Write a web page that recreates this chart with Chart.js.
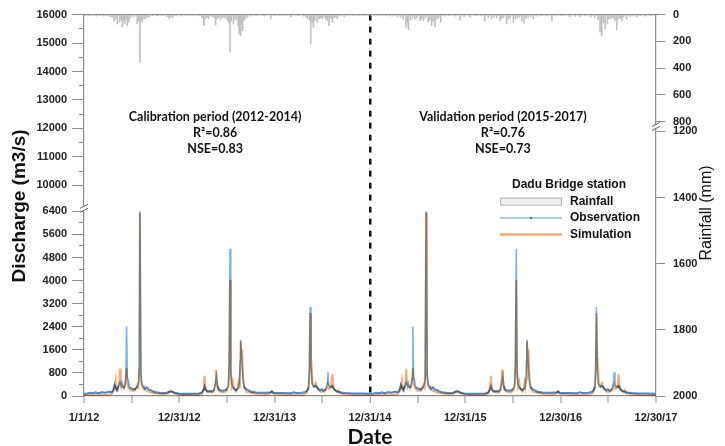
<!DOCTYPE html>
<html>
<head>
<meta charset="utf-8">
<script src="https://cdn.jsdelivr.net/npm/chart.js@4.4.1/dist/chart.umd.min.js"></script>
<style>
  html, body { margin: 0; padding: 0; background: #fff; }
  canvas { display: block; }
</style>
</head>
<body>
<canvas id="chart" width="725" height="446"></canvas>
<script>
// ── Axes (x = days since 1/1/12) ───────────────────────────────
const xTickDays   = [0, 365, 730, 1095, 1460, 1825, 2190];
const xTickLabels = ['1/1/12', '12/31/12', '12/31/13', '12/31/14', '12/31/15', '12/30/16', '12/30/17'];
const splitDay    = 1095;

const flowUpperTicks = [10000, 11000, 12000, 13000, 14000, 15000, 16000];
const flowLowerTicks = [0, 800, 1600, 2400, 3200, 4000, 4800, 5600, 6400];
const rainUpperTicks = [0, 200, 400, 600, 800];
const rainLowerTicks = [1200, 1400, 1600, 1800, 2000];

// ── Observation (m3/s) ─────────────────────────────────────────
const obsDays = [
  0, 12, 25, 35, 45, 55, 70, 80, 95, 105, 112, 117, 121, 126, 132, 138, 142, 146, 151, 156,
  160, 163, 166, 170, 174, 185, 195, 204, 210, 214, 218, 222, 227, 233, 240, 248, 255, 262, 275, 290,
  310, 326, 335, 345, 360, 380, 400, 420, 440, 452, 458, 462, 466, 474, 482, 490, 498, 503, 507, 511,
  517, 523, 530, 540, 548, 553, 556, 559, 562, 566, 570, 576, 582, 588, 591, 595, 598, 600, 603, 606,
  609, 613, 620, 628, 640, 660, 690, 712, 719, 726, 760, 790, 804, 812, 835, 848, 855, 860, 863, 866,
  869, 873, 879, 887, 897, 905, 910, 916, 926, 931, 934, 937, 943, 951, 956, 962, 968, 974, 985, 1000,
  1030, 1060, 1095,
  1108, 1121, 1131, 1141, 1151, 1166, 1176, 1191, 1201, 1208, 1213, 1217, 1222, 1228, 1234, 1238, 1242, 1247, 1252,
  1256, 1259, 1262, 1266, 1270, 1281, 1291, 1300, 1306, 1310, 1314, 1318, 1323, 1329, 1336, 1344, 1351, 1358, 1371, 1386,
  1406, 1422, 1431, 1441, 1456, 1476, 1496, 1516, 1536, 1548, 1554, 1558, 1562, 1570, 1578, 1586, 1594, 1599, 1603, 1607,
  1613, 1619, 1626, 1636, 1644, 1649, 1652, 1655, 1658, 1662, 1666, 1672, 1678, 1684, 1687, 1691, 1694, 1696, 1699, 1702,
  1705, 1709, 1716, 1724, 1736, 1756, 1786, 1808, 1815, 1822, 1856, 1886, 1900, 1908, 1931, 1944, 1951, 1956, 1959, 1962,
  1965, 1969, 1975, 1983, 1993, 2001, 2006, 2012, 2022, 2027, 2030, 2033, 2039, 2047, 2052, 2058, 2064, 2070, 2081, 2096,
  2126, 2156, 2190
];
const obsFlow = [
  80, 90, 110, 95, 130, 100, 140, 110, 150, 130, 200, 380, 300, 200, 350, 480, 300, 460, 280, 330,
  600, 2410, 650, 530, 300, 250, 220, 330, 500, 6400, 700, 400, 360, 250, 300, 220, 210, 170, 130, 110,
  100, 140, 150, 120, 90, 80, 75, 80, 85, 120, 220, 320, 200, 150, 180, 150, 220, 450, 700, 350,
  220, 200, 180, 200, 260, 400, 1200, 5100, 800, 400, 300, 250, 200, 250, 250, 500, 1200, 1950, 1400, 900,
  500, 320, 250, 200, 150, 120, 110, 120, 150, 110, 100, 95, 130, 100, 110, 140, 200, 320, 900, 3085,
  1000, 450, 300, 350, 250, 200, 240, 180, 250, 450, 824, 400, 300, 350, 250, 200, 160, 150, 120, 100,
  90, 85, 80,
  90, 110, 95, 130, 100, 140, 110, 150, 130, 200, 380, 300, 200, 350, 480, 300, 460, 280, 330,
  600, 2410, 650, 530, 300, 250, 220, 330, 500, 6400, 700, 400, 360, 250, 300, 220, 210, 170, 130, 110,
  100, 140, 150, 120, 90, 80, 75, 80, 85, 120, 220, 320, 200, 150, 180, 150, 220, 450, 700, 350,
  220, 200, 180, 200, 260, 400, 1200, 5100, 800, 400, 300, 250, 200, 250, 250, 500, 1200, 1950, 1400, 900,
  500, 320, 250, 200, 150, 120, 110, 120, 150, 110, 100, 95, 130, 100, 110, 140, 200, 320, 900, 3085,
  1000, 450, 300, 350, 250, 200, 240, 180, 250, 450, 824, 400, 300, 350, 250, 200, 160, 150, 120, 100,
  90, 85, 80
];

// ── Simulation (m3/s) ──────────────────────────────────────────
const simDays = [
  0, 30, 60, 90, 105, 112, 117, 121, 124, 130, 135, 138, 141, 146, 152, 158, 163, 166, 170, 178,
  190, 198, 204, 208, 211, 214, 217, 221, 228, 240, 255, 275, 300, 320, 328, 336, 345, 370, 400, 430,
  450, 456, 459, 462, 465, 472, 485, 497, 502, 505, 508, 512, 520, 535, 548, 553, 556, 559, 562, 566,
  570, 574, 582, 588, 591, 594, 597, 600, 603, 606, 609, 614, 622, 640, 670, 700, 712, 719, 726, 760,
  800, 840, 852, 859, 863, 866, 869, 871, 875, 881, 887, 893, 905, 918, 926, 931, 934, 938, 946, 951,
  955, 962, 970, 974, 980, 1000, 1040, 1095,
  1126, 1156, 1186, 1201, 1208, 1213, 1217, 1220, 1226, 1231, 1234, 1237, 1242, 1248, 1254, 1259, 1262, 1266, 1274,
  1286, 1294, 1300, 1304, 1307, 1310, 1313, 1317, 1324, 1336, 1351, 1371, 1396, 1416, 1424, 1432, 1441, 1466, 1496, 1526,
  1546, 1552, 1555, 1558, 1561, 1568, 1581, 1593, 1598, 1601, 1604, 1608, 1616, 1631, 1644, 1649, 1652, 1655, 1658, 1662,
  1666, 1670, 1678, 1684, 1687, 1690, 1693, 1696, 1699, 1702, 1705, 1710, 1718, 1736, 1766, 1796, 1808, 1815, 1822, 1856,
  1896, 1936, 1948, 1955, 1959, 1962, 1965, 1967, 1971, 1977, 1983, 1989, 2001, 2014, 2022, 2027, 2030, 2034, 2042, 2047,
  2051, 2058, 2066, 2070, 2076, 2096, 2136, 2190
];
const simFlow = [
  30, 35, 40, 45, 60, 150, 300, 550, 250, 200, 500, 950, 400, 350, 250, 400, 970, 450, 300, 200,
  180, 250, 380, 300, 900, 6350, 800, 350, 250, 180, 130, 90, 60, 80, 185, 180, 90, 40, 25, 25,
  60, 200, 450, 700, 300, 150, 120, 150, 400, 904, 600, 250, 150, 120, 180, 350, 1100, 4030, 900, 350,
  500, 250, 150, 250, 450, 300, 600, 1900, 1300, 1620, 700, 250, 150, 100, 60, 50, 80, 170, 70, 40,
  35, 40, 100, 250, 700, 2875, 1300, 1193, 400, 350, 450, 250, 150, 150, 200, 300, 400, 250, 300, 754,
  300, 180, 150, 200, 100, 50, 30, 25,
  35, 40, 45, 60, 150, 300, 550, 250, 200, 500, 950, 400, 350, 250, 400, 970, 450, 300, 200,
  180, 250, 380, 300, 900, 6350, 800, 350, 250, 180, 130, 90, 60, 80, 185, 180, 90, 40, 25, 25,
  60, 200, 450, 700, 300, 150, 120, 150, 400, 904, 600, 250, 150, 120, 180, 350, 1100, 4030, 900, 350,
  500, 250, 150, 250, 450, 300, 600, 1900, 1300, 1620, 700, 250, 150, 100, 60, 50, 80, 170, 70, 40,
  35, 40, 100, 250, 700, 2875, 1300, 1193, 400, 350, 450, 250, 150, 150, 200, 300, 400, 250, 300, 754,
  300, 180, 150, 200, 100, 50, 30, 25
];

// ── Rainfall (mm) ──────────────────────────────────────────────
const rainDays = [
  8, 20, 33, 47, 60, 75, 88, 100, 108, 115, 122, 128, 137, 142, 147, 152, 156, 161, 166, 172,
  180, 192, 204, 209, 214, 219, 223, 230, 236, 243, 249, 262, 280, 300, 318, 326, 333, 339, 352, 371,
  395, 420, 440, 452, 459, 466, 472, 478, 490, 498, 504, 510, 516, 523, 530, 536, 542, 550, 555, 559,
  564, 572, 578, 585, 590, 594, 597, 600, 604, 607, 612, 618, 626, 640, 660, 690, 715, 730, 760, 792,
  820, 840, 849, 855, 862, 868, 873, 878, 884, 893, 900, 906, 912, 920, 926, 932, 938, 945, 951, 958,
  964, 970, 980, 996, 1010, 1030, 1050, 1070, 1088,
  1100, 1112, 1125, 1140, 1155, 1170, 1185, 1200, 1212, 1222, 1233, 1238, 1242, 1250, 1258, 1267, 1275, 1287, 1293, 1300,
  1308, 1318, 1324, 1331, 1337, 1344, 1352, 1358, 1366, 1380, 1400, 1420, 1440, 1455, 1478, 1500, 1520, 1535, 1548, 1561,
  1570, 1580, 1593, 1600, 1607, 1618, 1625, 1632, 1644, 1652, 1660, 1667, 1676, 1685, 1693, 1700, 1710, 1720, 1735, 1750,
  1770, 1791, 1805, 1830, 1860, 1880, 1900, 1920, 1940, 1955, 1968, 1976, 1982, 1988, 1995, 2004, 2010, 2018, 2026, 2033,
  2040, 2047, 2053, 2059, 2066, 2078, 2090, 2100, 2116, 2130, 2148, 2170
];
const rainMm = [
  5, 8, 4, 10, 6, 12, 7, 15, 20, 50, 30, 70, 57, 40, 90, 45, 70, 35, 82, 57,
  25, 20, 70, 45, 356, 40, 57, 30, 32, 20, 20, 10, 8, 6, 15, 32, 18, 25, 10, 12,
  5, 6, 10, 25, 82, 30, 20, 32, 15, 25, 75, 30, 20, 40, 25, 15, 32, 45, 60, 282,
  50, 70, 40, 32, 80, 145, 90, 157, 60, 120, 45, 30, 20, 12, 8, 10, 32, 8, 6, 15,
  8, 12, 20, 32, 40, 219, 60, 95, 45, 57, 30, 25, 32, 20, 35, 45, 82, 30, 57, 25,
  20, 32, 12, 15, 8, 10, 6, 8, 5,
  6, 8, 5, 10, 7, 12, 9, 15, 20, 35, 95, 60, 115, 40, 25, 32, 25, 45, 30, 45,
  25, 57, 40, 82, 50, 90, 35, 25, 57, 12, 8, 12, 40, 15, 20, 8, 10, 50, 25, 32,
  20, 25, 45, 30, 20, 70, 35, 25, 57, 30, 25, 20, 50, 65, 30, 20, 15, 32, 12, 10,
  12, 50, 10, 8, 15, 12, 15, 10, 20, 25, 40, 132, 157, 60, 107, 70, 35, 30, 25, 45,
  112, 30, 25, 45, 20, 32, 15, 10, 20, 8, 12, 6
];

// ── Texts ──────────────────────────────────────────────────────
const periodTitles = ['Calibration period (2012-2014)', 'Validation period (2015-2017)'];
const periodR2     = ['R²=0.86', 'R²=0.76'];
const periodNse    = ['NSE=0.83', 'NSE=0.73'];
const stationName  = 'Dadu Bridge station';

const AXIS = '#8c8c8c';
const FONT = "'Liberation Sans', Arial, sans-serif";
const OBS_COLOR = 'rgba(110,172,236,0.9)';
const OBS_BASE = '#5288d0';
const OBS_DOT = '#3a6cb2';
const SIM_COLOR = 'rgba(240,138,66,0.7)';

function pairs(days, vals) {
  return days.map((d, i) => ({ x: d, y: vals[i] }));
}

function withMinor(major, minor) {
  const out = [];
  major.forEach((v, i) => {
    out.push({ value: v });
    if (minor && i < major.length - 1) out.push({ value: (v + major[i + 1]) / 2, minor: true });
  });
  return out;
}

const tickFont = { family: FONT, size: 11, weight: 'bold' };

function yAxis(position, stack, weight, min, max, major, minor, reverse) {
  return {
    type: 'linear', position, stack, stackWeight: weight, min, max, reverse,
    afterBuildTicks: s => { s.ticks = withMinor(major, minor); },
    afterFit: s => { s.width = position === 'left' ? 84 : 69; },
    border: { display: true, color: AXIS, width: 1.2 },
    grid: {
      display: true, drawOnChartArea: false, color: AXIS, tickColor: AXIS, tickWidth: 1,
      tickLength: position === 'left' ? 12 : 9,
      tickBorderDash: c => (c.tick && c.tick.minor ? [5, 7] : []),
      tickBorderDashOffset: c => (c.tick && c.tick.minor ? 5 : 0),
    },
    ticks: {
      autoSkip: false, font: tickFont, color: '#222', padding: position === 'left' ? 5 : 8,
      callback: (v, i, t) => (t[i].minor ? '' : String(v)),
    },
  };
}

// ── Titles, axis breaks, annotations and legend ────────────────
const overlay = {
  id: 'overlay',
  beforeDatasetDraw(chart, args) {
    if (args.meta.label === 'Simulation') {
      chart.ctx.save();
      chart.ctx.globalCompositeOperation = 'multiply';
    }
  },
  afterDatasetDraw(chart, args) {
    if (args.meta.label === 'Simulation') chart.ctx.restore();
  },
  afterDraw(chart) {
    const { ctx, scales, chartArea } = chart;
    ctx.save();

    // axis breaks
    const breaks = [[scales.yLow.right, scales.yLow.top], [scales.rUp.left, scales.rUp.bottom]];
    breaks.forEach(([bx, by]) => {
      ctx.fillStyle = '#fff';
      ctx.fillRect(bx - 3, by - 2, 6, 4);
      ctx.strokeStyle = '#666';
      ctx.lineWidth = 1;
      [-2, 2].forEach(o => {
        ctx.beginPath();
        ctx.moveTo(bx - 4, by + o + 2);
        ctx.lineTo(bx + 4, by + o - 2);
        ctx.stroke();
      });
    });

    // axis titles
    ctx.fillStyle = '#111';
    ctx.textAlign = 'center';
    ctx.textBaseline = 'middle';
    ctx.save();
    ctx.translate(20, 206);
    ctx.rotate(-Math.PI / 2);
    ctx.font = `bold 19px ${FONT}`;
    ctx.fillText('Discharge (m3/s)', 0, 0);
    ctx.restore();
    ctx.save();
    ctx.translate(707, 213);
    ctx.rotate(-Math.PI / 2);
    ctx.font = `16px ${FONT}`;
    ctx.fillText('Rainfall (mm)', 0, 0);
    ctx.restore();

    // period annotations
    ctx.font = "bold 12.5px Lato, 'Open Sans', sans-serif";
    [502, 1604].forEach((day, i) => {
      const cx = scales.x.getPixelForValue(day);
      const cy = scales.yUp.getPixelForValue(12400);
      ctx.fillText(periodTitles[i], cx, cy);
      ctx.fillText(periodR2[i], cx, cy + 16);
      ctx.fillText(periodNse[i], cx, cy + 32);
    });

    // legend
    const lx = chartArea.right - 156;
    const ly = chartArea.top + 170;
    ctx.font = `bold 12px ${FONT}`;
    ctx.fillText(stationName, lx + 69, ly);
    ctx.textAlign = 'left';
    chart.data.datasets.forEach((ds, i) => {
      const y = ly + 17 + i * 16.5;
      if (ds.type === 'bar') {
        ctx.fillStyle = '#eeeeee';
        ctx.fillRect(lx, y - 4, 62, 8);
        ctx.strokeStyle = '#b4b4b4';
        ctx.lineWidth = 1;
        ctx.strokeRect(lx + 0.5, y - 3.5, 61, 7);
      } else {
        ctx.strokeStyle = ds.legendColor;
        ctx.lineWidth = ds.legendWidth;
        ctx.beginPath();
        ctx.moveTo(lx, y);
        ctx.lineTo(lx + 62, y);
        ctx.stroke();
        if (ds.legendDot) {
          ctx.fillStyle = ds.legendDot;
          ctx.fillRect(lx + 30, y - 1, 2, 2);
        }
      }
      ctx.fillStyle = '#111';
      ctx.fillText(ds.label, lx + 70, y);
    });
    ctx.restore();
  },
};

const chart = new Chart(document.getElementById('chart'), {
  type: 'line',
  data: {
    datasets: [
      {
        type: 'bar', label: 'Rainfall', data: pairs(rainDays, rainMm),
        xAxisID: 'x', yAxisID: 'rUp', backgroundColor: '#c0c0c0', barThickness: 1, order: 3,
      },
      {
        label: 'Observation', data: pairs(obsDays, obsFlow), xAxisID: 'x', yAxisID: 'yLow',
        borderColor: OBS_COLOR, borderWidth: 1.6, tension: 0, order: 2, pointRadius: 0,
        segment: {
          borderColor: c => (c.p0.parsed.y < 400 && c.p1.parsed.y < 400 ? OBS_BASE : undefined),
          borderWidth: c => (c.p0.parsed.y < 400 && c.p1.parsed.y < 400 ? 2 : undefined),
        },
        legendColor: '#8cbcec', legendWidth: 1.5, legendDot: OBS_DOT,
      },
      {
        label: 'Simulation', data: pairs(simDays, simFlow), xAxisID: 'x', yAxisID: 'yLow',
        borderColor: SIM_COLOR, borderWidth: 2, tension: 0, order: 1, pointRadius: 0,
        legendColor: '#f4a772', legendWidth: 2.5,
      },
    ],
  },
  options: {
    responsive: false,
    animation: false,
    devicePixelRatio: 1,
    events: [],
    layout: { padding: { top: 14, left: 0, right: 0, bottom: 0 } },
    plugins: { legend: { display: false }, tooltip: { enabled: false } },
    scales: {
      x: {
        type: 'linear', position: 'bottom', min: 0, max: 2190, offset: false,
        afterBuildTicks: s => { s.ticks = withMinor(xTickDays, true); },
        afterFit: s => { s.height = 50; },
        border: { display: true, color: AXIS, width: 1.2, dash: [6, 6] },
        grid: {
          display: true, offset: false, drawOnChartArea: true, drawTicks: true, tickLength: 7,
          color: c => (c.tick && c.tick.value === splitDay ? '#111' : 'rgba(0,0,0,0)'),
          lineWidth: c => (c.tick && c.tick.value === splitDay ? 2.5 : 0),
          tickColor: AXIS, tickWidth: 1,
        },
        ticks: {
          autoSkip: false, maxRotation: 0, font: tickFont, color: '#222', padding: 8,
          callback: v => (xTickDays.includes(v) ? xTickLabels[xTickDays.indexOf(v)] : ''),
        },
        title: {
          display: true, text: 'Date', color: '#111', padding: { top: 0, bottom: 0 },
          font: { family: "Lato, 'Open Sans', sans-serif", size: 21, weight: 'bold', lineHeight: '18px' },
        },
      },
      xTop: {
        type: 'linear', position: 'top', min: 0, max: 2190, offset: false,
        afterFit: s => { s.height = 0; },
        border: { display: true, color: AXIS, width: 1.2 },
        grid: { display: false },
        ticks: { display: false },
      },
      yLow: yAxis('left', 'left', 188, 0, 6504, flowLowerTicks, true, false),
      yUp: yAxis('left', 'left', 194, 9193, 16000, flowUpperTicks, true, false),
      rUp: yAxis('right', 'right', 112, 0, 837, rainUpperTicks, false, true),
      rLow: yAxis('right', 'right', 270, 1185, 2000, rainLowerTicks, false, true),
    },
  },
  plugins: [overlay],
});
</script>
</body>
</html>
